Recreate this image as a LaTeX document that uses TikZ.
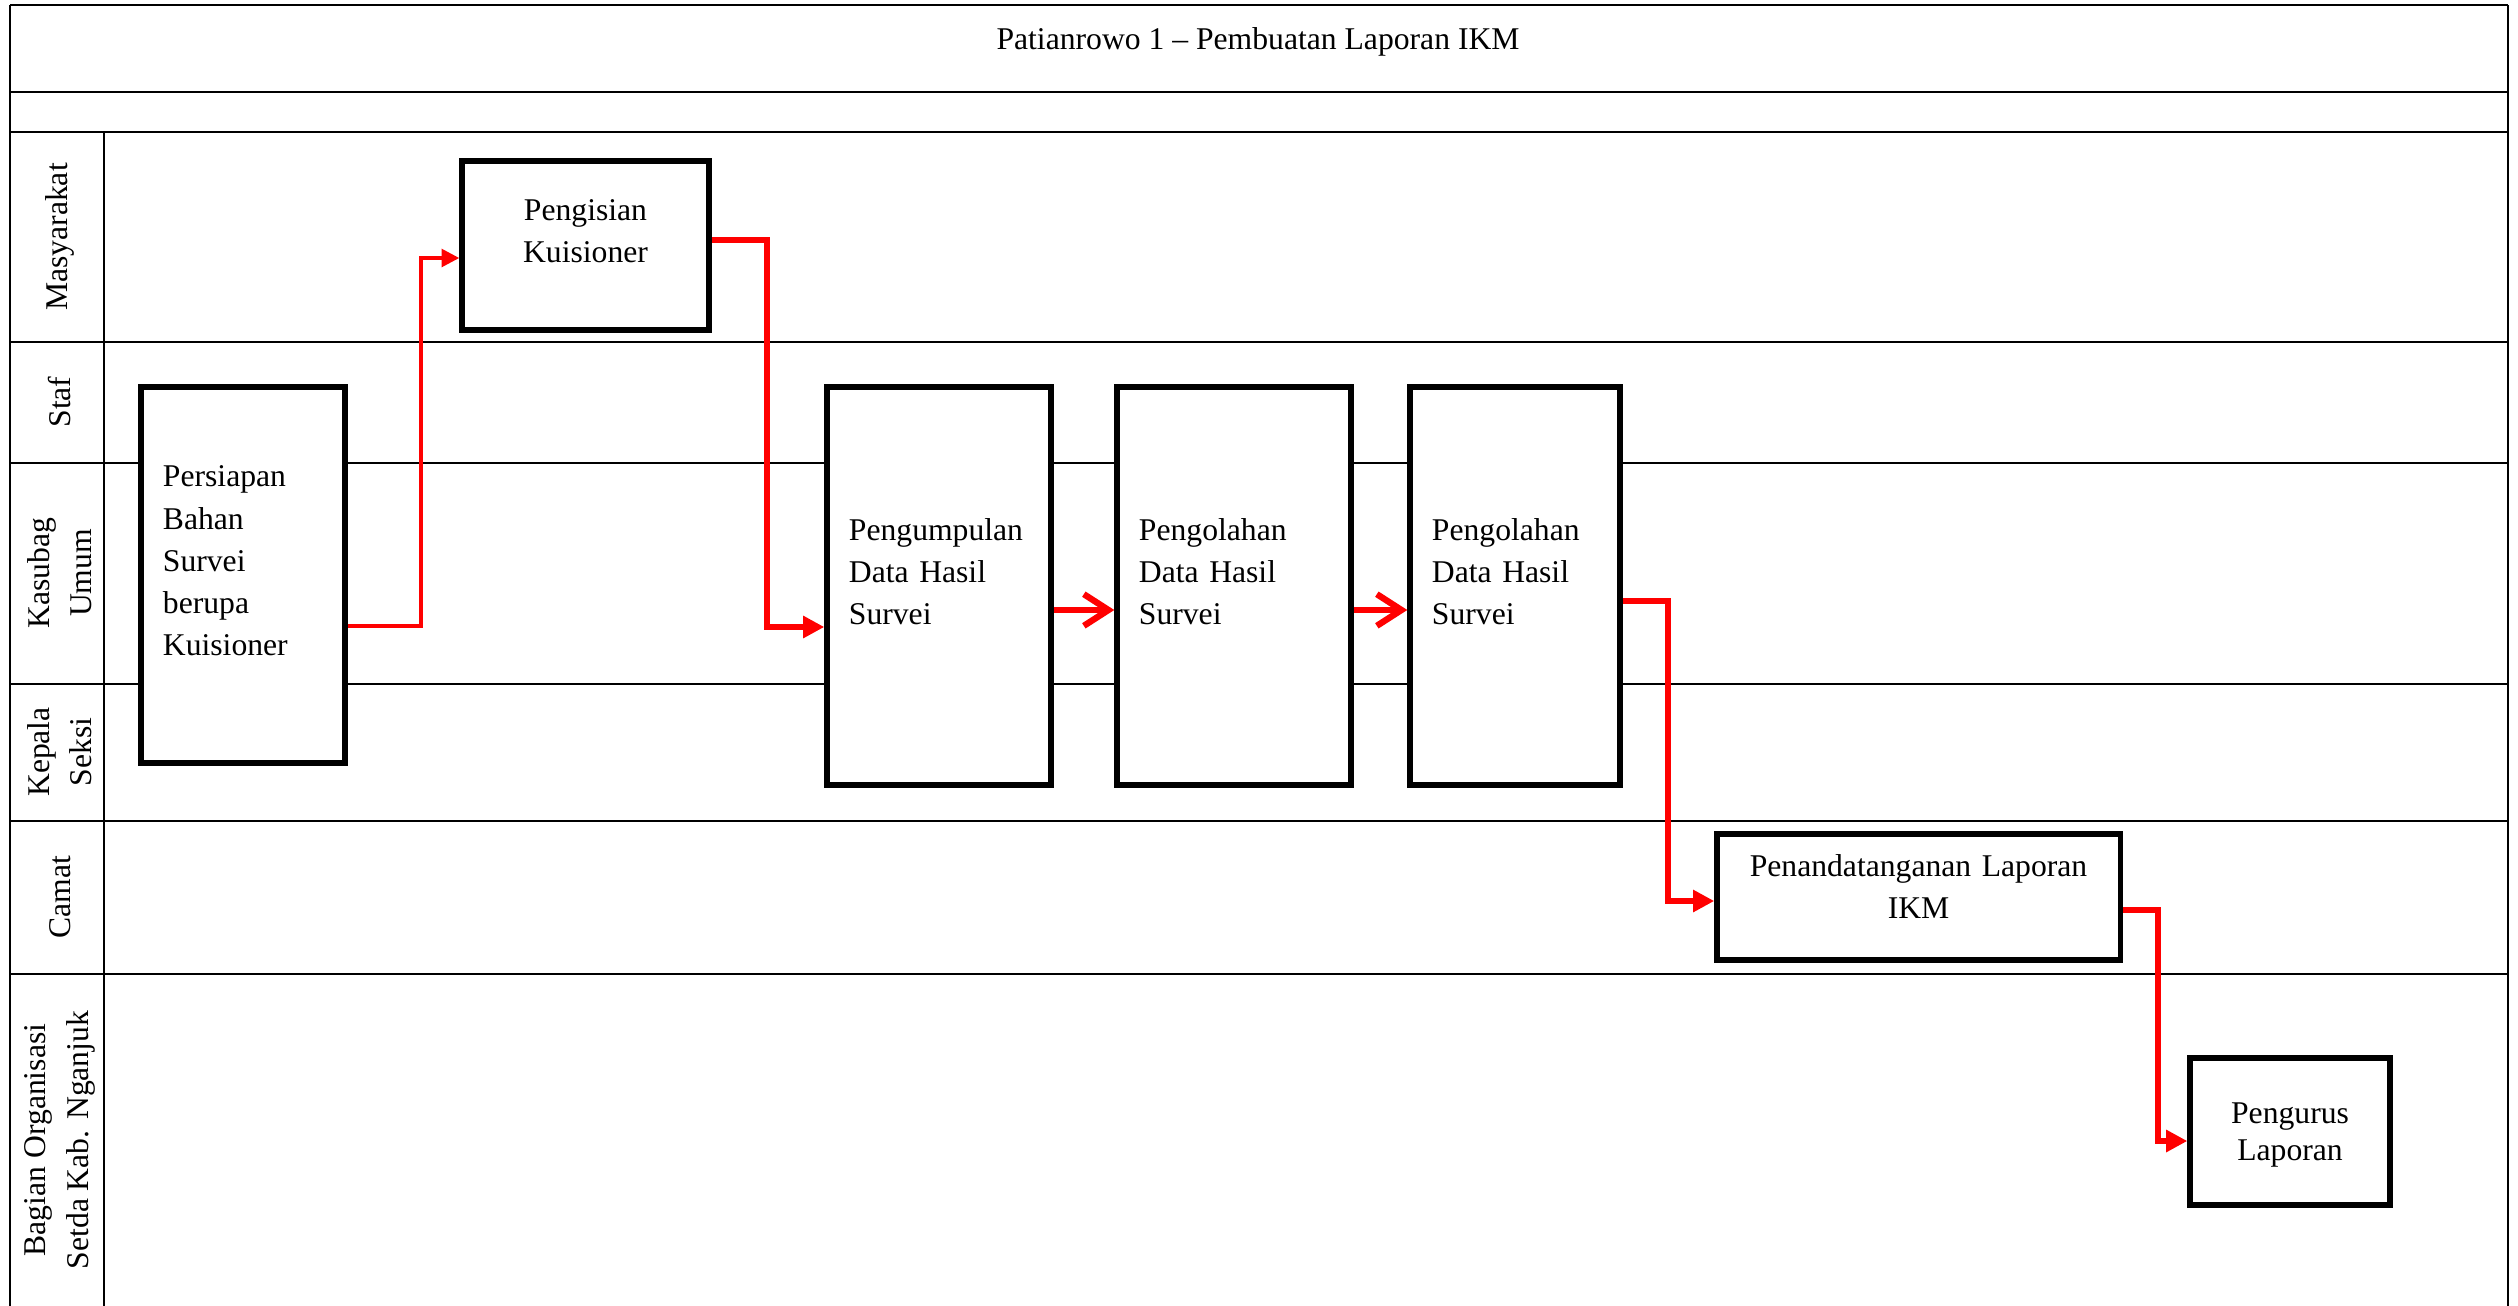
\documentclass[tikz,border=0pt]{standalone}
\usepackage{fontspec}
\setmainfont{Liberation Serif}
\usetikzlibrary{
  arrows.meta,   % for arrow tips
  positioning
}
\tikzstyle{taskbox} = [rectangle, draw, line width=1.5pt, fill=white, inner sep=0pt, inner xsep=0.1cm, align=center, lift=8pt]
\tikzstyle{taskleft} = [taskbox, align=left, inner xsep=0.22cm]
\tikzstyle{lanelabel} = [rotate=90, align=center, inner sep=0pt]
\tikzset{
  lift/.style={execute at end node={\par\vspace*{#1}}},
  flowline/.style={draw=red, line width=1.6pt, -{Triangle[length=6pt,width=6pt]}},
  thinflow/.style={flowline, line width=1pt, -{Triangle[length=5pt,width=5pt]}},
  barbflow/.style={flowline, line width=1.8pt, -{Straight Barb[length=7pt,width=9pt]}},
  laneline/.style={line width=0.6pt}
}

\begin{document}
\begin{tikzpicture}[x=0.01cm, y=-0.01cm, every node/.style={font=\fontsize{9}{12}\selectfont}]
\useasboundingbox (0,0) rectangle (2518,1306);
  % frame and lanes
\draw[line width=0.8pt] (10,5) -- (2508,5) (10,92) -- (2508,92) (10,132) -- (2508,132);
\draw[line width=0.8pt] (10,5) -- (10,1306) (2508,5) -- (2508,1306);
\foreach \y in {342,463,684,821,974} \draw[laneline] (10,\y) -- (2508,\y);
\draw[laneline] (104,132) -- (104,1306);
\node (judul) at (1258,42) {Patianrowo 1 -- Pembuatan Laporan IKM};

  % lane names
\node[lanelabel] (masyarakat) at (60,237) {Masyarakat};
\node[lanelabel] (staf) at (60,402) {Staf};
\node[lanelabel] (kasubag) at (60,573) {Kasubag\\Umum};
\node[lanelabel] (kepala) at (60,752) {Kepala\\Seksi};
\node[lanelabel] (camat) at (60,897) {Camat};
\node[lanelabel] (bagian) at (60,1140) {Bagian Organisasi\\Setda Kab. Nganjuk};

  % process steps
\node[taskleft, minimum width=2.04cm, minimum height=3.76cm, text width=1.60cm] (persiapan) at (243,575) {Persiapan\\Bahan\\Survei\\berupa\\Kuisioner};
\node[taskbox, minimum width=2.47cm, minimum height=1.69cm, text width=2.27cm] (pengisian) at (585.5,245.5) {Pengisian\\Kuisioner};
\node[taskleft, minimum width=2.24cm, minimum height=3.98cm, text width=1.80cm] (pengumpulan) at (939,586) {Pengumpulan\\Data Hasil\\Survei};
\node[taskleft, minimum width=2.34cm, minimum height=3.98cm, text width=1.90cm] (olah1) at (1234,586) {Pengolahan\\Data Hasil\\Survei};
\node[taskleft, minimum width=2.10cm, minimum height=3.98cm, text width=1.66cm] (olah2) at (1515,586) {Pengolahan\\Data Hasil\\Survei};
\node[taskbox, minimum width=4.03cm, minimum height=1.26cm, text width=3.83cm, lift=-2pt] (tanda) at (1918.5,897) {Penandatanganan Laporan\\IKM};
\node[taskbox, minimum width=2.00cm, minimum height=1.47cm, text width=1.80cm, lift=-10pt, font=\fontsize{9}{10.5}\selectfont] (pengurus) at (2290,1131.5) {Pengurus\\Laporan};

  % flow
\draw[thinflow] (persiapan.east |- 0,626) -| (421,258) -- (pengisian.west |- 0,258);
\draw[flowline] (pengisian.east |- 0,240) -| (767,627) -- (pengumpulan.west |- 0,627);
\draw[barbflow] (pengumpulan.east |- 0,610) -- (olah1.west |- 0,610);
\draw[barbflow] (olah1.east |- 0,610) -- (olah2.west |- 0,610);
\draw[flowline] (olah2.east |- 0,601) -| (1668,901) -- (tanda.west |- 0,901);
\draw[flowline] (tanda.east |- 0,910) -| (2158,1141) -- (pengurus.west |- 0,1141);
\end{tikzpicture}
\end{document}
